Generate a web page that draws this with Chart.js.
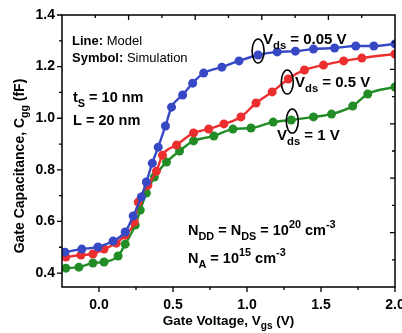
<!DOCTYPE html>
<html>
<head>
<meta charset="utf-8">
<script src="https://cdn.jsdelivr.net/npm/chart.js@4"></script>
<style>
  html, body { margin: 0; padding: 0; background: #fff; }
  #wrap { width: 402px; height: 333px; }
</style>
</head>
<body>
<div id="wrap"><canvas id="cgg" width="402" height="333"></canvas></div>
<script>
// Vds = 0.05 V (blue)
const vgsBlue = [-0.23, -0.116, -0.007, 0.095, 0.177, 0.231, 0.286, 0.32, 0.36, 0.40, 0.449, 0.49, 0.565, 0.633, 0.707, 0.83, 0.946, 1.075, 1.204, 1.327, 1.449, 1.592, 1.735, 1.857, 2.0];
const cggBlue = [0.481, 0.493, 0.501, 0.524, 0.559, 0.621, 0.695, 0.753, 0.826, 0.888, 0.970, 1.043, 1.090, 1.136, 1.175, 1.198, 1.222, 1.245, 1.257, 1.260, 1.268, 1.272, 1.280, 1.280, 1.288];
// Vds = 0.5 V (red)
const vgsRed = [-0.224, -0.122, -0.041, 0.034, 0.116, 0.177, 0.238, 0.265, 0.33, 0.388, 0.429, 0.524, 0.639, 0.741, 0.844, 0.959, 1.061, 1.170, 1.279, 1.388, 1.517, 1.653, 1.776, 2.0];
const cggRed = [0.462, 0.470, 0.474, 0.493, 0.516, 0.547, 0.598, 0.675, 0.740, 0.795, 0.857, 0.896, 0.943, 0.958, 0.978, 1.005, 1.059, 1.102, 1.152, 1.187, 1.206, 1.222, 1.233, 1.249];
// Vds = 1 V (green)
const vgsGreen = [-0.224, -0.136, -0.041, 0.034, 0.129, 0.177, 0.245, 0.279, 0.320, 0.374, 0.456, 0.544, 0.639, 0.776, 0.905, 1.027, 1.177, 1.299, 1.449, 1.571, 1.714, 1.816, 2.0];
const cggGreen = [0.419, 0.423, 0.439, 0.443, 0.466, 0.512, 0.586, 0.644, 0.710, 0.772, 0.830, 0.873, 0.912, 0.931, 0.958, 0.962, 0.985, 0.993, 1.005, 1.016, 1.047, 1.094, 1.121];

const xTicks = [0, 0.5, 1.0, 1.5, 2.0];
const yTicks = [0.4, 0.6, 0.8, 1.0, 1.2, 1.4];

const FONT = '"Liberation Sans", Arial, sans-serif';
const BLUE = 'rgb(55,72,196)';
const RED = 'rgb(236,46,46)';
const GREEN = 'rgb(34,140,38)';

function toPoints(xs, ys) {
  return xs.map((x, i) => ({ x: x, y: ys[i] }));
}

function series(label, xs, ys, color) {
  return {
    label: label,
    data: toPoints(xs, ys),
    borderColor: color,
    backgroundColor: color,
    borderWidth: 2.4,
    pointRadius: 4.5,
    pointBorderWidth: 0,
    cubicInterpolationMode: 'monotone'
  };
}

// draw text with sub/superscript parts, returns width
function drawRich(ctx, x, y, parts, size) {
  let cx = x;
  parts.forEach(p => {
    const s = p.s ? size * 0.75 : size;
    ctx.font = (p.n ? '' : 'bold ') + s + 'px ' + FONT;
    const dy = p.s === 'sub' ? size * 0.32 : p.s === 'sup' ? -size * 0.45 : 0;
    ctx.fillText(p.t, cx, y + dy);
    cx += ctx.measureText(p.t).width;
  });
  return cx - x;
}

function richWidth(ctx, parts, size) {
  let w = 0;
  parts.forEach(p => {
    const s = p.s ? size * 0.75 : size;
    ctx.font = (p.n ? '' : 'bold ') + s + 'px ' + FONT;
    w += ctx.measureText(p.t).width;
  });
  return w;
}

const framePlugin = {
  id: 'frame',
  afterDraw(chart) {
    const ctx = chart.ctx;
    const a = chart.chartArea;
    const xs = chart.scales.x, ys = chart.scales.y;
    ctx.save();
    ctx.strokeStyle = '#000';
    ctx.fillStyle = '#000';
    ctx.lineWidth = 1.5;
    ctx.strokeRect(a.left, a.top, a.right - a.left, a.bottom - a.top);

    ctx.lineWidth = 1.3;
    ctx.beginPath();
    // bottom ticks (outward)
    for (let v = 0; v <= 2.001; v += 0.25) {
      const px = xs.getPixelForValue(v);
      const major = Math.abs(v * 2 - Math.round(v * 2)) < 1e-6;
      ctx.moveTo(px, a.bottom);
      ctx.lineTo(px, a.bottom + (major ? 5 : 3));
    }
    // left ticks (outward)
    for (let v = 0.4; v <= 1.401; v += 0.1) {
      const py = ys.getPixelForValue(v);
      const major = Math.round(v * 10) % 2 === 0;
      ctx.moveTo(a.left, py);
      ctx.lineTo(a.left - (major ? 5 : 3), py);
    }
    // top ticks (inward), ten equal divisions
    for (let k = 1; k < 10; k++) {
      const px = a.left + (a.right - a.left) * k / 10;
      ctx.moveTo(px, a.top);
      ctx.lineTo(px, a.top + (k % 2 === 0 ? 5 : 3));
    }
    // right ticks (inward)
    for (let k = 1; k < 10; k++) {
      const py = a.top + (a.bottom - a.top) * k / 10;
      ctx.moveTo(a.right, py);
      ctx.lineTo(a.right - (k % 2 === 0 ? 5 : 3), py);
    }
    ctx.stroke();

    // axis titles
    ctx.textBaseline = 'alphabetic';
    ctx.textAlign = 'left';
    const xt = [{ t: 'Gate Voltage, V' }, { t: 'gs', s: 'sub' }, { t: ' (V)' }];
    const xw = richWidth(ctx, xt, 13.5);
    drawRich(ctx, (a.left + a.right) / 2 - xw / 2, 325, xt, 13.5);

    const yt = [{ t: 'Gate Capacitance, C' }, { t: 'gg', s: 'sub' }, { t: ' (fF)' }];
    const yw = richWidth(ctx, yt, 14);
    ctx.save();
    ctx.translate(24, 166);
    ctx.rotate(-Math.PI / 2);
    drawRich(ctx, -yw / 2, 0, yt, 14);
    ctx.restore();

    // legend notes
    drawRich(ctx, 72, 45, [{ t: 'Line:' }, { t: ' Model', n: true }], 13);
    drawRich(ctx, 72, 62, [{ t: 'Symbol:' }, { t: ' Simulation', n: true }], 13);
    drawRich(ctx, 73, 102, [{ t: 't' }, { t: 'S', s: 'sub' }, { t: ' = 10 nm' }], 14.5);
    drawRich(ctx, 73, 125, [{ t: 'L = 20 nm' }], 14.5);

    drawRich(ctx, 263, 44, [{ t: 'V' }, { t: 'ds', s: 'sub' }, { t: ' = 0.05 V' }], 15);
    drawRich(ctx, 295, 87, [{ t: 'V' }, { t: 'ds', s: 'sub' }, { t: ' = 0.5 V' }], 15);
    drawRich(ctx, 277, 140, [{ t: 'V' }, { t: 'ds', s: 'sub' }, { t: ' = 1 V' }], 15);

    drawRich(ctx, 188, 235, [{ t: 'N' }, { t: 'DD', s: 'sub' }, { t: ' = N' }, { t: 'DS', s: 'sub' },
      { t: ' = 10' }, { t: '20', s: 'sup' }, { t: ' cm' }, { t: '-3', s: 'sup' }], 14.5);
    drawRich(ctx, 188, 263, [{ t: 'N' }, { t: 'A', s: 'sub' }, { t: ' = 10' }, { t: '15', s: 'sup' },
      { t: ' cm' }, { t: '-3', s: 'sup' }], 14.5);

    // ellipses around the labelled points
    const rings = [[vgsBlue[17], cggBlue[17], 0, -4], [vgsRed[18], cggRed[18], -1, 3], [vgsGreen[17], cggGreen[17], 1, 1]];
    ctx.lineWidth = 1.6;
    rings.forEach(r => {
      const cx = xs.getPixelForValue(r[0]) + r[2];
      const cy = ys.getPixelForValue(r[1]) + r[3];
      ctx.beginPath();
      ctx.ellipse(cx, cy, 6, 12, 0, 0, Math.PI * 2);
      ctx.stroke();
    });
    ctx.restore();
  }
};

const ctx = document.getElementById('cgg').getContext('2d');
new Chart(ctx, {
  type: 'line',
  data: {
    datasets: [
      series('Vds = 0.05 V', vgsBlue, cggBlue, BLUE),
      series('Vds = 0.5 V', vgsRed, cggRed, RED),
      series('Vds = 1 V', vgsGreen, cggGreen, GREEN)
    ]
  },
  options: {
    responsive: false,
    animation: false,
    layout: { padding: { left: 0, top: 15, right: 7, bottom: 0 } },
    plugins: { legend: { display: false }, tooltip: { enabled: false } },
    scales: {
      x: {
        type: 'linear',
        min: -0.25,
        max: 2.0,
        grid: { display: false, drawTicks: false },
        border: { display: false },
        afterBuildTicks: s => { s.ticks = xTicks.map(v => ({ value: v })); },
        afterFit: s => { s.height = 46; s.paddingLeft = 0; s.paddingRight = 0; },
        ticks: {
          maxRotation: 0,
          autoSkip: false,
          padding: 10,
          color: '#000',
          font: { family: FONT, size: 14, weight: 'bold' },
          callback: v => Number(v).toFixed(1)
        }
      },
      y: {
        min: 0.346,
        max: 1.4,
        grid: { display: false, drawTicks: false },
        border: { display: false },
        afterBuildTicks: s => { s.ticks = yTicks.map(v => ({ value: v })); },
        afterFit: s => { s.width = 62; s.paddingTop = 0; s.paddingBottom = 0; },
        ticks: {
          autoSkip: false,
          padding: 7,
          color: '#000',
          font: { family: FONT, size: 14, weight: 'bold' },
          callback: v => Number(v).toFixed(1)
        }
      }
    }
  },
  plugins: [framePlugin]
});
</script>
</body>
</html>
